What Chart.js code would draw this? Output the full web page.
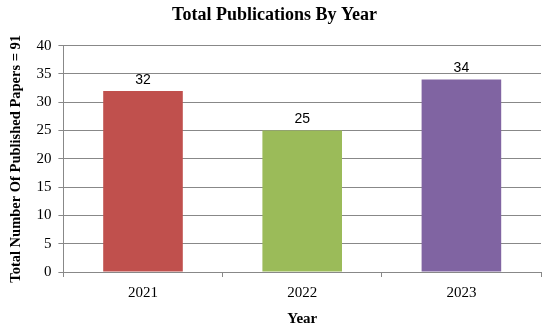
<!DOCTYPE html>
<html><head><meta charset="utf-8">
<script src="https://cdn.jsdelivr.net/npm/chart.js@4/dist/chart.umd.min.js"></script>
<style>html,body{margin:0;padding:0;background:#fff}#w{width:550px;height:328px}</style>
</head><body><div id="w"><canvas id="c"></canvas></div>
<script>
const categories = ['2021', '2022', '2023'];
const publications = [32, 25, 34];
const barColors = ['#C0504D', '#9BBB59', '#8064A2'];
const yTicks = [0, 5, 10, 15, 20, 25, 30, 35, 40];

const labelPlugin = {
  id: 'valueLabels',
  afterDatasetsDraw(chart) {
    const ctx = chart.ctx;
    const meta = chart.getDatasetMeta(0);
    ctx.save();
    ctx.fillStyle = '#000';
    ctx.font = '14px "Liberation Sans", Arial, sans-serif';
    ctx.textAlign = 'center';
    ctx.textBaseline = 'bottom';
    meta.data.forEach((bar, i) => {
      ctx.fillText(String(publications[i]), bar.x, bar.y - 4);
    });
    ctx.restore();
  }
};

new Chart(document.getElementById('c'), {
  type: 'bar',
  data: {
    labels: categories,
    datasets: [{
      data: publications,
      backgroundColor: barColors,
      borderWidth: 0,
      barPercentage: 0.5,
      categoryPercentage: 1.0
    }]
  },
  options: {
    responsive: true,
    maintainAspectRatio: false,
    animation: false,
    layout: { padding: { left: 8, right: 9, top: 0, bottom: 0 } },
    plugins: {
      legend: { display: false },
      tooltip: { enabled: false },
      title: {
        display: true,
        text: 'Total Publications By Year',
        color: '#000',
        font: { family: '"Liberation Serif", serif', size: 18, weight: 'bold' },
        padding: { top: 5, bottom: 19 }
      }
    },
    scales: {
      x: {
        grid: { display: true, drawOnChartArea: false, drawTicks: true, tickLength: 5, color: '#888', offset: true },
        border: { display: true, color: '#888' },
        ticks: { color: '#000', font: { family: '"Liberation Serif", serif', size: 15 }, padding: 7 },
        title: { display: true, text: 'Year', color: '#000', font: { family: '"Liberation Serif", serif', size: 15, weight: 'bold' }, padding: { top: 1, bottom: 0 } }
      },
      y: {
        min: 0, max: 40,
        afterBuildTicks(scale) { scale.ticks = yTicks.map(v => ({ value: v })); },
        grid: { color: '#888', tickLength: 5 },
        border: { display: true, color: '#888' },
        ticks: { color: '#000', font: { family: '"Liberation Serif", serif', size: 15 }, padding: 7 },
        title: { display: true, text: 'Total Number Of Published Papers = 91', color: '#000', font: { family: '"Liberation Serif", serif', size: 14.5, weight: 'bold' }, padding: { top: 0, bottom: 4 } }
      }
    }
  },
  plugins: [labelPlugin]
});
</script></body></html>
